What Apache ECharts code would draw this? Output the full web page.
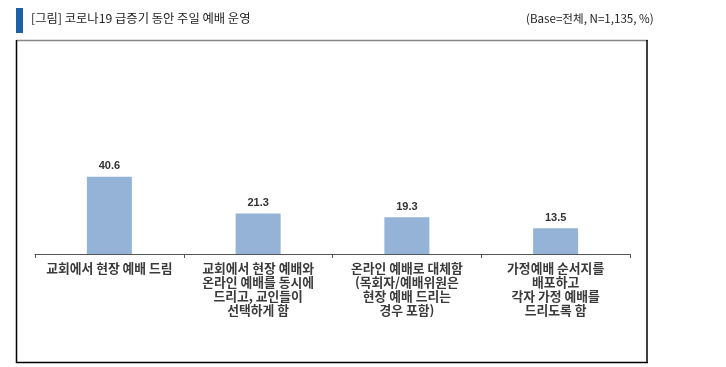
<!DOCTYPE html>
<html><head><meta charset="utf-8">
<script src="https://cdn.jsdelivr.net/npm/echarts@6/dist/echarts.min.js"></script>
<style>html,body{margin:0;padding:0;background:#fff}#c{width:726px;height:367px}</style>
</head><body><div id="c"></div>
<script>
const titleText = '[그림] 코로나19 급증기 동안 주일 예배 운영';
const baseText = '(Base=전체, N=1,135, %)';
const categories = [
  '교회에서 현장 예배 드림',
  '교회에서 현장 예배와\n온라인 예배를 동시에\n드리고, 교인들이\n선택하게 함',
  '온라인 예배로 대체함\n(목회자/예배위원은\n현장 예배 드리는\n경우 포함)',
  '가정예배 순서지를\n배포하고\n각자 가정 예배를\n드리도록 함'
];
const values = [40.6, 21.3, 19.3, 13.5];

const chart = echarts.init(document.getElementById('c'), null, {renderer:'canvas'});
const KFONT = '"Noto Sans CJK KR","Noto Sans",sans-serif';
chart.setOption({
  animation:false,
  backgroundColor:'#fff',
  grid:{left:35, right:96, top:64, bottom:113},
  xAxis:{
    type:'category', data:categories, boundaryGap:true,
    axisLine:{lineStyle:{color:'#555', width:1}},
    axisTick:{show:true, length:4, inside:false, lineStyle:{color:'#555'}},
    axisLabel:{interval:0, margin:7, fontSize:12.8, fontWeight:'bold', color:'#3a3a3a', lineHeight:14, fontFamily:KFONT}
  },
  yAxis:{type:'value', min:0, max:100, show:false, splitLine:{show:false}},
  series:[{
    type:'bar', data:values, barWidth:45,
    itemStyle:{color:'#95b3d7'},
    label:{show:true, position:'top', distance:5, fontSize:11, fontWeight:'bold', color:'#333', fontFamily:'Arial, "Liberation Sans", sans-serif', formatter:p=>p.value.toFixed(1)}
  }],
  graphic:[
    {type:'rect', shape:{x:16, y:8, width:7, height:25}, style:{fill:'#1f5fa6'}},
    {type:'text', left:31, top:12, style:{text:titleText, fontSize:12.3, fill:'#222', fontFamily:KFONT}},
    {type:'text', left:526, top:13, style:{text:baseText, fontSize:11.6, fill:'#222', fontFamily:KFONT}},
    {type:'line', shape:{x1:16, y1:40.5, x2:648, y2:40.5}, style:{stroke:'#888', lineWidth:1.5}},
    {type:'line', shape:{x1:16.5, y1:40, x2:16.5, y2:363}, style:{stroke:'#000', lineWidth:1.5}},
    {type:'line', shape:{x1:647, y1:40, x2:647, y2:363}, style:{stroke:'#000', lineWidth:1.5}},
    {type:'line', shape:{x1:16, y1:362.5, x2:648, y2:362.5}, style:{stroke:'#000', lineWidth:1.5}}
  ]
});
</script></body></html>
